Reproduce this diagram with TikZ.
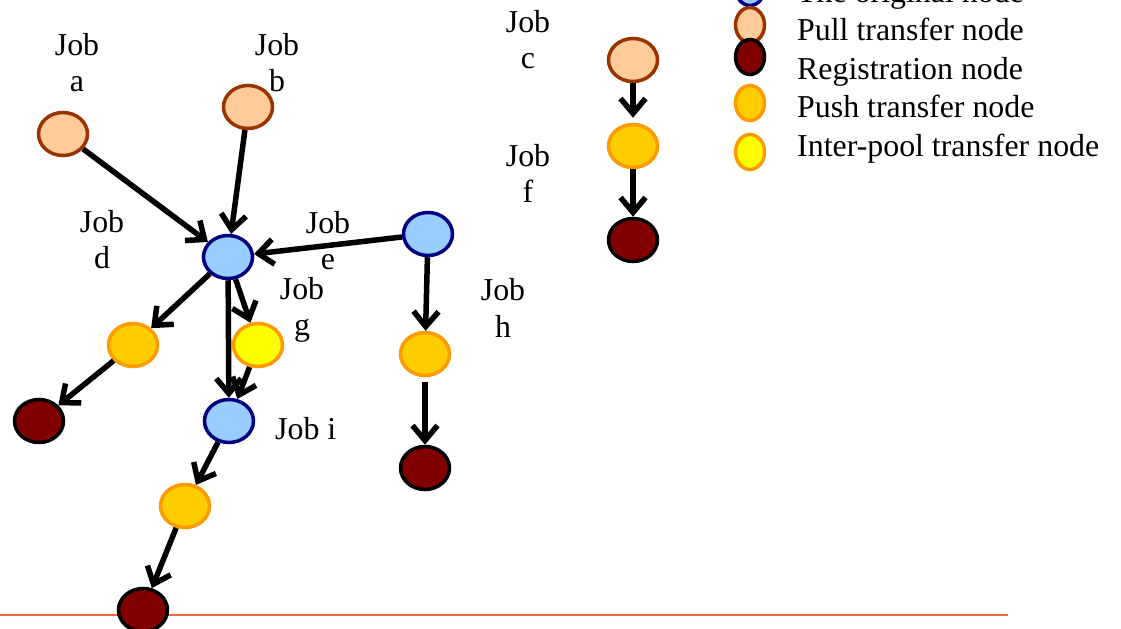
\documentclass[tikz,border=0pt]{standalone}
\usepackage{fontspec}
\setmainfont{Liberation Serif}
\usetikzlibrary{arrows.meta,shapes.geometric}
\definecolor{origfill}{HTML}{99CCFF}
\definecolor{origline}{HTML}{000080}
\definecolor{pullfill}{HTML}{FFCC99}
\definecolor{pullline}{HTML}{993300}
\definecolor{regfill}{HTML}{800000}
\definecolor{pushfill}{HTML}{FFCC00}
\definecolor{pushline}{HTML}{FF9900}
\definecolor{interfill}{HTML}{FFFF00}
\definecolor{rulecol}{HTML}{F26B3A}
\begin{document}
\begin{tikzpicture}[x=1bp,y=-1bp,
  txt/.style={font=\fontsize{32}{37}\selectfont, inner sep=0pt},
  lbl/.style={txt, align=center, anchor=base},
  gnode/.style={ellipse, minimum width=49bp, minimum height=43bp, inner sep=0pt, line width=3.5bp},
  keynode/.style={ellipse, minimum width=29bp, minimum height=35bp, inner sep=0pt, line width=3.5bp},
  orig/.style={draw=origline, fill=origfill},
  pull/.style={draw=pullline, fill=pullfill},
  reg/.style={draw=black, fill=regfill},
  push/.style={draw=pushline, fill=pushfill},
  inter/.style={draw=pushline, fill=interfill},
  link/.style={line width=5.5bp, -{Straight Barb[length=15bp,width=25bp]}}
]
\useasboundingbox (0,0) rectangle (1121,629);

% separator rule
\coordinate (ruleL) at (0,615);
\coordinate (ruleR) at (1008,615);
\draw[rulecol, line width=2.5bp] (ruleL) -- (ruleR);

% main graph
\node[gnode,pull] (A) at (63,134) {};
\node[gnode,pull] (B) at (248,107) {};
\node[gnode,orig] (C) at (228,257) {};
\node[gnode,orig] (E) at (428,234) {};
\node[gnode,push] (PL) at (133,345) {};
\node[gnode,inter] (Y) at (258,345) {};
\node[gnode,reg] (RL) at (39,421) {};
\node[gnode,orig] (I) at (229,421) {};
\node[gnode,push] (PB) at (185,506) {};
\node[gnode,reg] (RB) at (143,610) {};
\node[gnode,push] (PE) at (425,354) {};
\node[gnode,reg] (RE) at (425,468) {};

% job c chain
\node[gnode,pull] (PC) at (633,60) {};
\node[gnode,push] (PF) at (633,146) {};
\node[gnode,reg] (RF) at (633,240) {};

\draw[link] (A) -- (C);
\draw[link] (B) -- (C);
\draw[link] (E) -- (C);
\draw[link] (C) -- (PL);
\draw[link] (C) -- (I);
\draw[link] (C) -- (Y);
\draw[link] (Y) -- (I);
\draw[link] (PL) -- (RL);
\draw[link] (I) -- (PB);
\draw[link] (PB) -- (RB);
\draw[link] (E) -- (PE);
\draw[link, shorten <=5bp] (PE) -- (RE);
\draw[link, shorten >=5bp] (PC) -- (PF);
\draw[link] (PF) -- (RF);

% job labels (anchored at the baseline of the second line)
\node[lbl] (la) at (77,92) {Job\\a};
\node[lbl] (lb) at (277,92) {Job\\b};
\node[lbl] (lc) at (528,69) {Job\\c};
\node[lbl] (ld) at (102,269) {Job\\d};
\node[lbl] (le) at (328,270) {Job\\e};
\node[lbl] (lf) at (528,203) {Job\\f};
\node[lbl] (lg) at (302,336) {Job\\g};
\node[lbl] (lh) at (503,337) {Job\\h};
\node[txt, anchor=base west] (li) at (275,439) {Job i};

% key
\node[keynode,orig] (k1) at (750,-12) {};
\node[keynode,pull] (k2) at (750,25) {};
\node[keynode,reg] (k3) at (750,57) {};
\node[keynode,push] (k4) at (750,103) {};
\node[keynode,inter] (k5) at (750,152) {};
\node[txt, anchor=base west] (t1) at (797,3) {The original node};
\node[txt, anchor=base west] (t2) at (797,41) {Pull transfer node};
\node[txt, anchor=base west] (t3) at (797,80) {Registration node};
\node[txt, anchor=base west] (t4) at (797,118) {Push transfer node};
\node[txt, anchor=base west] (t5) at (797,157) {Inter-pool transfer node};
\end{tikzpicture}
\end{document}
